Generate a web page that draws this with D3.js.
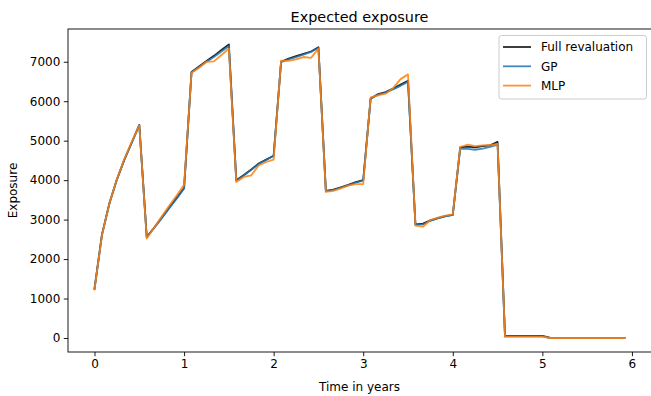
<!DOCTYPE html>
<html>
<head>
<meta charset="utf-8">
<script src="https://cdn.jsdelivr.net/npm/d3@7"></script>
<style>
  body { margin: 0; background: #fff; }
  svg { display: block; font-family: "DejaVu Sans", sans-serif; }
</style>
</head>
<body>
<svg id="chart" width="651" height="396"></svg>
<script>
const times = [0, 0.083, 0.167, 0.25, 0.333, 0.417, 0.5, 0.583, 0.667, 0.75, 0.833, 0.917,
  1, 1.083, 1.167, 1.25, 1.333, 1.417, 1.5, 1.583, 1.667, 1.75, 1.833, 1.917,
  2, 2.083, 2.167, 2.25, 2.333, 2.417, 2.5, 2.583, 2.667, 2.75, 2.833, 2.917,
  3, 3.083, 3.167, 3.25, 3.333, 3.417, 3.5, 3.583, 3.667, 3.75, 3.833, 3.917,
  4, 4.083, 4.167, 4.25, 4.333, 4.417, 4.5, 4.583, 4.667, 4.75, 4.833, 4.917,
  5, 5.083, 5.167, 5.25, 5.333, 5.417, 5.5, 5.583, 5.667, 5.75, 5.833, 5.917];

const fullReval = [
  1250, 2620, 3420, 4020, 4520, 4960, 5400,
  2560, 2800, 3050, 3300, 3550, 3800,
  6740, 6880, 7020, 7150, 7300, 7440,
  4000, 4130, 4270, 4420, 4520, 4620,
  7000, 7080, 7140, 7200, 7260, 7370,
  3730, 3760, 3820, 3880, 3950, 4000,
  6070, 6180, 6230, 6320, 6420, 6520,
  2880, 2900, 2980, 3040, 3090, 3120,
  4830, 4850, 4830, 4860, 4880, 4970,
  50, 50, 50, 50, 55, 55,
  10, 5, 5, 5, 5, 5, 5, 5, 5, 5, 5];

const gpVals = [
  1250, 2610, 3410, 4010, 4510, 4950, 5390,
  2560, 2790, 3030, 3280, 3530, 3790,
  6730, 6860, 7000, 7120, 7260, 7390,
  3990, 4120, 4260, 4410, 4510, 4620,
  6990, 7060, 7120, 7180, 7250, 7350,
  3720, 3750, 3810, 3870, 3940, 3990,
  6060, 6170, 6220, 6300, 6390, 6490,
  2870, 2880, 2970, 3030, 3080, 3120,
  4800, 4790, 4770, 4800, 4840, 4900,
  40, 40, 40, 40, 40, 40,
  5, 5, 5, 5, 5, 5, 5, 5, 5, 5, 5];

const mlpVals = [
  1230, 2600, 3420, 4030, 4540, 4980, 5380,
  2520, 2800, 3080, 3350, 3610, 3880,
  6720, 6850, 7000, 7010, 7170, 7330,
  3950, 4080, 4120, 4370, 4460, 4520,
  7030, 7020, 7060, 7120, 7100, 7330,
  3700, 3730, 3790, 3860, 3900, 3900,
  6100, 6150, 6190, 6330, 6560, 6680,
  2850, 2820, 2990, 3050, 3100, 3130,
  4840, 4900, 4860, 4880, 4890, 4920,
  35, 35, 35, 35, 35, 35,
  0, 0, 0, 0, 0, 0, 0, 0, 0, 0, 0];

const seriesNames = ["Full revaluation", "GP", "MLP"];
const seriesColors = ["#000000", "#1f77b4", "#ff7f0e"];
const xTicks = [0, 1, 2, 3, 4, 5, 6];
const yTicks = [0, 1000, 2000, 3000, 4000, 5000, 6000, 7000];

const series = [fullReval, gpVals, mlpVals];

const svg = d3.select("#chart");
const L = 68, R = 651, T = 29, B = 352;

const x = d3.scaleLinear().domain([-0.296, 6.213]).range([L, R]);
const y = d3.scaleLinear().domain([-355, 7830]).range([B, T]);

const fs = 12;

// axes
const xAxis = svg.append("g").attr("transform", `translate(0,${B})`)
  .call(d3.axisBottom(x).tickValues(xTicks).tickFormat(d3.format("d")).tickSize(4.2).tickPadding(3.5).tickSizeOuter(0));
const yAxis = svg.append("g").attr("transform", `translate(${L},0)`)
  .call(d3.axisLeft(y).tickValues(yTicks).tickFormat(d3.format("d")).tickSize(4.2).tickPadding(3.5).tickSizeOuter(0));
[xAxis, yAxis].forEach(g => {
  g.select(".domain").remove();
  g.selectAll("text").attr("font-size", fs).attr("fill", "#000").attr("font-family", "DejaVu Sans");
  g.selectAll("line").attr("stroke", "#000").attr("stroke-width", 0.9);
});

// spines
svg.append("rect").attr("x", L).attr("y", T).attr("width", R - L + 2).attr("height", B - T)
  .attr("fill", "none").attr("stroke", "#000").attr("stroke-width", 0.9);

// lines
const clip = svg.append("clipPath").attr("id", "clip").append("rect")
  .attr("x", L).attr("y", T).attr("width", R - L).attr("height", B - T);
const line = d3.line().x((d, i) => x(times[i])).y(d => y(d));
const plot = svg.append("g").attr("clip-path", "url(#clip)");
series.forEach((s, k) => {
  plot.append("path").datum(s).attr("d", line)
    .attr("fill", "none").attr("stroke", seriesColors[k]).attr("stroke-width", 1.8)
    .attr("stroke-opacity", 0.85).attr("stroke-linejoin", "round").attr("stroke-linecap", "square");
});

// title & labels
svg.append("text").attr("x", (L + R) / 2).attr("y", 22).attr("text-anchor", "middle")
  .attr("font-size", 14.4).attr("fill", "#000").text("Expected exposure");
svg.append("text").attr("x", (L + R) / 2).attr("y", 391).attr("text-anchor", "middle")
  .attr("font-size", fs).attr("fill", "#000").text("Time in years");
svg.append("text").attr("transform", `translate(17,${(T + B) / 2}) rotate(-90)`).attr("text-anchor", "middle")
  .attr("font-size", fs).attr("fill", "#000").text("Exposure");

// legend
const lg = svg.append("g");
lg.append("rect").attr("x", 499).attr("y", 35.5).attr("width", 147.5).attr("height", 63.5)
  .attr("rx", 2.5).attr("fill", "#fff").attr("fill-opacity", 0.8).attr("stroke", "#cccccc").attr("stroke-width", 1);
seriesNames.forEach((n, k) => {
  const yy = 47 + k * 19.3;
  lg.append("line").attr("x1", 503).attr("x2", 531).attr("y1", yy).attr("y2", yy)
    .attr("stroke", seriesColors[k]).attr("stroke-width", 1.8).attr("stroke-opacity", 0.85);
  lg.append("text").attr("x", 541).attr("y", yy + 4.3).attr("font-size", fs).attr("fill", "#000").text(n);
});
</script>
</body>
</html>
